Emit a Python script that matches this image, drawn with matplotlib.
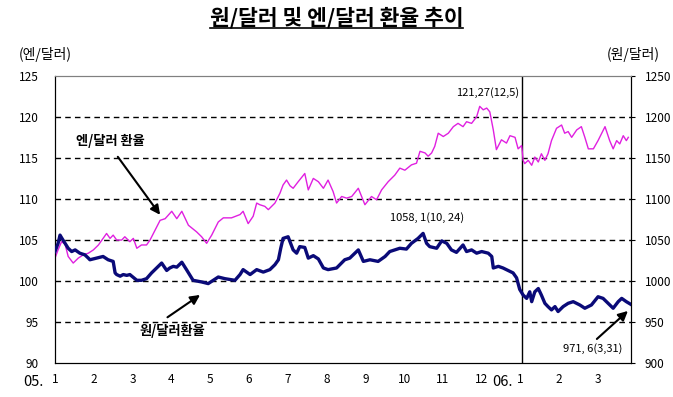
import matplotlib
matplotlib.use("Agg")
import matplotlib.pyplot as plt
from matplotlib.lines import Line2D

plt.rcParams['font.family'] = ['Noto Sans CJK KR', 'DejaVu Sans']

# x positions are months since 2005-01-01 (0 = Jan 05, 12 = Jan 06)
yen_x = [0, 0.08, 0.17, 0.26, 0.34, 0.47, 0.60, 0.73, 0.86, 0.99, 1.12, 1.24, 1.33, 1.42, 1.50,
         1.59, 1.72, 1.80, 1.93, 2.02, 2.11, 2.23, 2.36, 2.45, 2.58, 2.71, 2.84, 3.01, 3.14, 3.27,
         3.44, 3.65, 3.78, 3.91, 4.04, 4.21, 4.34, 4.55, 4.77, 4.85, 4.98, 5.11, 5.20, 5.28, 5.41,
         5.50, 5.67, 5.80, 5.88, 5.97, 6.06, 6.14, 6.27, 6.44, 6.53, 6.66, 6.79, 6.92, 7.04, 7.17,
         7.26, 7.39, 7.52, 7.65, 7.82, 7.99, 8.16, 8.29, 8.42, 8.59, 8.76, 8.89, 9.02, 9.19, 9.32,
         9.41, 9.54, 9.62, 9.71, 9.79, 9.88, 10.01, 10.14, 10.27, 10.39, 10.52, 10.61, 10.74, 10.87,
         10.95, 11.04, 11.13, 11.21, 11.30, 11.38, 11.51, 11.64, 11.73, 11.86, 11.94, 12.03, 12.07,
         12.11, 12.20, 12.29, 12.37, 12.46, 12.54, 12.63, 12.71, 12.80, 12.93, 13.06, 13.14, 13.23,
         13.32, 13.45, 13.57, 13.66, 13.75, 13.88, 14.00, 14.18, 14.30, 14.39, 14.48, 14.56, 14.65,
         14.73, 14.78]
yen = [102.8, 103.8, 104.8, 104.5, 103.0, 102.2, 102.8, 103.2, 103.4, 103.8, 104.4, 105.2, 105.8,
       105.2, 105.6, 105.0, 105.0, 105.4, 104.8, 105.2, 104.0, 104.4, 104.4, 105.0, 106.2, 107.4,
       107.6, 108.5, 107.6, 108.5, 106.8, 106.0, 105.4, 104.6, 105.6, 107.2, 107.7, 107.7, 108.1,
       108.5, 107.0, 107.9, 109.5, 109.3, 109.1, 108.7, 109.5, 110.7, 111.7, 112.3, 111.6, 111.3,
       112.1, 113.1, 111.1, 112.5, 112.1, 111.3, 112.3, 110.9, 109.5, 110.3, 110.1, 110.3, 111.3,
       109.3, 110.3, 109.9, 111.1, 112.1, 112.9, 113.75, 113.5, 114.15, 114.35, 115.8, 115.6, 115.2,
       115.6, 116.4, 118.0, 117.6, 118.0, 118.8, 119.2, 118.8, 119.4, 119.2, 120.0, 121.27, 120.85,
       121.06, 120.6, 118.4, 116.0, 117.2, 116.8, 117.7, 117.5, 116.1, 116.5, 114.7, 114.3, 114.7,
       114.1, 115.1, 114.5, 115.5, 114.7, 115.5, 117.1, 118.6, 119.0, 118.0, 118.2, 117.5, 118.4,
       118.8, 117.5, 116.1, 116.1, 117.1, 118.8, 117.1, 116.1, 117.1, 116.7, 117.7, 117.1, 117.5]

won_x = [0, 0.08, 0.13, 0.18, 0.26, 0.34, 0.43, 0.52, 0.64, 0.77, 0.86, 0.90, 1.07, 1.24, 1.37,
         1.50, 1.55, 1.59, 1.68, 1.76, 1.85, 1.93, 2.11, 2.23, 2.36, 2.49, 2.62, 2.75, 2.88, 2.96,
         3.05, 3.14, 3.27, 3.39, 3.56, 3.78, 3.95, 4.08, 4.21, 4.38, 4.64, 4.77, 4.85, 5.03, 5.20,
         5.37, 5.54, 5.67, 5.76, 5.82, 5.88, 6.01, 6.14, 6.23, 6.31, 6.44, 6.53, 6.66, 6.79, 6.92,
         7.04, 7.26, 7.47, 7.60, 7.82, 7.95, 8.12, 8.33, 8.51, 8.63, 8.89, 9.06, 9.19, 9.36, 9.49,
         9.58, 9.66, 9.84, 9.97, 10.10, 10.22, 10.35, 10.52, 10.61, 10.74, 10.87, 11.00, 11.17,
         11.26, 11.30, 11.43, 11.55, 11.68, 11.81, 11.90, 11.98, 12.07, 12.16, 12.24, 12.29, 12.37,
         12.46, 12.54, 12.63, 12.71, 12.80, 12.89, 12.97, 13.10, 13.23, 13.36, 13.53, 13.66, 13.83,
         14.00, 14.13, 14.26, 14.39, 14.52, 14.61, 14.73, 14.85]
won = [1036, 1046, 1056, 1052, 1046, 1040, 1036, 1038, 1034, 1032, 1028, 1026, 1028, 1030, 1026,
       1024, 1010, 1008, 1006, 1008, 1007, 1008, 1001, 1001, 1003, 1010, 1016, 1022, 1013, 1016,
       1018, 1017, 1023, 1014, 1001, 999, 997, 1001, 1005, 1003, 1001, 1008, 1014, 1008, 1014,
       1011, 1014, 1020, 1026, 1040, 1052, 1054, 1038, 1034, 1042, 1041, 1028, 1031, 1027, 1016,
       1014, 1016, 1026, 1028, 1038, 1024, 1026, 1024, 1030, 1036, 1040, 1039, 1046, 1052, 1058.1,
       1046, 1042, 1040, 1049, 1046, 1038, 1035, 1044, 1036, 1038, 1034, 1036, 1034,
       1030, 1016, 1018, 1016, 1013, 1010, 1004, 990, 983, 979, 987, 975, 987,
       991, 983, 973, 969, 965, 969, 963, 969, 973, 975, 971, 967, 971,
       981, 979, 973, 967, 975, 979, 975, 971.6]

months = list(range(15))
month_labels = ['1', '2', '3', '4', '5', '6', '7', '8', '9', '10', '11', '12', '1', '2', '3']

fig = plt.figure(figsize=(6.73, 3.97), dpi=100)
ax = fig.add_axes([0.0817, 0.0849, 0.8559, 0.7244])
ax2 = ax.twinx()

# dashed grid
for v in [95, 100, 105, 110, 115, 120]:
    ax.axhline(v, color='black', lw=1, ls=(0, (4, 3)), zorder=1)
ax.axvline(12.04, color='black', lw=1, zorder=2)

ax.plot(yen_x, yen, color='#e020e0', lw=1, zorder=3)
ax2.plot(won_x, won, color='#0a0a78', lw=2.4, zorder=3)

ax.set_xlim(0, 14.85)
ax.set_ylim(90, 125)
ax2.set_ylim(900, 1250)
ax.set_yticks(range(90, 126, 5))
ax2.set_yticks(range(900, 1251, 50))
ax.set_xticks(months)
ax.set_xticklabels(month_labels)

ax.tick_params(axis='y', length=0, pad=12, labelsize=8.5)
ax.tick_params(axis='x', length=0, pad=7, labelsize=8.5)
ax2.tick_params(axis='y', length=3, pad=7, labelsize=8.5, direction='out')

for a in (ax, ax2):
    a.spines['top'].set_color('#808080')
    a.spines['left'].set_color('black')
    a.spines['right'].set_color('black')
    a.spines['bottom'].set_color('black')

# year markers next to the month labels
fig.text(44 / 673, 1 - 382 / 397, '05.', ha='right', va='center', fontsize=10.5)
fig.text(513 / 673, 1 - 382 / 397, '06.', ha='right', va='center', fontsize=10.5)

# value labels and arrows
ax.text(11.16, 122.9, '121,27(12,5)', ha='center', va='center', fontsize=8)
ax.text(9.59, 107.7, '1058, 1(10, 24)', ha='center', va='center', fontsize=8)
ax.text(13.87, 91.74, '971, 6(3,31)', ha='center', va='center', fontsize=8)

arrow = dict(arrowstyle='-|>', color='black', lw=1.5, mutation_scale=14, shrinkA=0, shrinkB=0)
ax.text(1.42, 117.07, '엔/달러 환율', ha='center', va='center', fontsize=9.5, fontweight='bold')
ax.annotate('', xy=(2.71, 108.07), xytext=(1.62, 115.13), arrowprops=arrow)
ax.text(3.02, 93.9, '원/달러환율', ha='center', va='center', fontsize=9.5, fontweight='bold')
ax.annotate('', xy=(3.74, 98.32), xytext=(2.9, 95.6), arrowprops=arrow)
ax.annotate('', xy=(14.77, 96.37), xytext=(13.97, 92.96), arrowprops=arrow)

fig.text(45 / 673, 1 - 55 / 397, '(엔/달러)', ha='center', va='center', fontsize=10)
fig.text(633 / 673, 1 - 55 / 397, '(원/달러)', ha='center', va='center', fontsize=10)

title = fig.text(0.5, 1 - 18 / 397, '원/달러 및 엔/달러 환율 추이', ha='center', va='center',
                 fontsize=15.5, fontweight='bold')
fig.canvas.draw()
bb = title.get_window_extent().transformed(fig.transFigure.inverted())
fig.add_artist(Line2D([bb.x0, bb.x1], [bb.y0 + 0.003, bb.y0 + 0.003], color='black', lw=1.2,
                      transform=fig.transFigure))

fig.savefig('out.png', dpi=100, facecolor='white')
